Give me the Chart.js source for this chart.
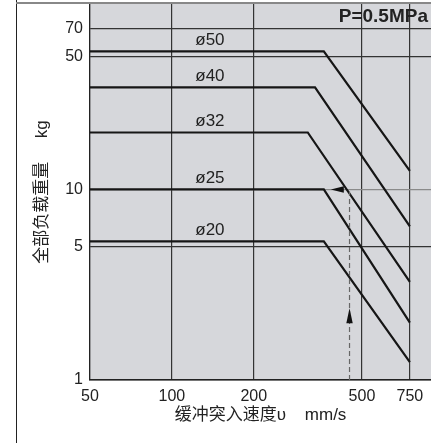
<!DOCTYPE html>
<html>
<head>
<meta charset="utf-8">
<script src="https://cdn.jsdelivr.net/npm/chart.js@4.4.1/dist/chart.umd.min.js"></script>
<style>
  body { margin: 0; background: #fff; }
  canvas { display: block; }
</style>
</head>
<body>
<canvas id="chart" width="431" height="443"></canvas>
<script>
// 缓冲突入速度 (mm/s) - 全部负载重量 (kg), P=0.5MPa
const boreLabels = ['ø50', 'ø40', 'ø32', 'ø25', 'ø20'];
const startSpeed = [50, 50, 50, 50, 50];
const flatLoad = [53, 34.3, 19.9, 10, 5.34];   // kg 水平段
const kneeSpeed = [362, 336, 316, 362, 362];    // mm/s 拐点
const endSpeed = [750, 750, 750, 750, 750];
const endLoad = [12.5, 6.4, 3.27, 2.0, 1.24];   // kg @750mm/s
const xTicks = [50, 100, 200, 500, 750];
const yTicks = [1, 5, 10, 50, 70];
const pressureLabel = 'P=0.5MPa';
const labelSpeed = 138;

// 选型示例 450mm/s -> 10kg
const exampleSpeed = 450;
const exampleLoad = 10;
const arrowUpLoad = 2.38;
const arrowLeftSpeed = 384;

const latin = '"Liberation Sans", Arial, "Noto Sans CJK SC", sans-serif';
const ink = '#222';

const decor = {
  id: 'decor',
  beforeDatasetsDraw(chart) {
    const { ctx, chartArea: a } = chart;
    ctx.save();
    // 底色画在网格之下
    ctx.globalCompositeOperation = 'destination-over';
    ctx.fillStyle = 'rgb(214,215,219)';
    ctx.fillRect(a.left, a.top, a.right - a.left, a.bottom - a.top);
    ctx.restore();
  },
  afterDraw(chart) {
    const { ctx } = chart;
    ctx.save();
    ctx.strokeStyle = '#222';
    ctx.lineWidth = 1;
    ctx.beginPath(); ctx.moveTo(16.5, 0); ctx.lineTo(16.5, chart.height); ctx.stroke();
    ctx.strokeStyle = '#888';
    ctx.lineWidth = 2;
    ctx.beginPath(); ctx.moveTo(16, 3); ctx.lineTo(chart.width, 3); ctx.stroke();
    ctx.restore();
  },
  afterDatasetsDraw(chart) {
    const { ctx, chartArea: a } = chart;
    const x = chart.scales.x, y = chart.scales.y;
    ctx.save();
    ctx.fillStyle = ink;
    ctx.font = '17px ' + latin;
    ctx.textAlign = 'center';
    ctx.textBaseline = 'middle';
    boreLabels.forEach((t, i) => {
      ctx.fillText(t, x.getPixelForValue(labelSpeed), y.getPixelForValue(flatLoad[i]) - 11);
    });

    ctx.font = 'bold 19px ' + latin;
    ctx.textAlign = 'right';
    ctx.fillText(pressureLabel, a.right - 3, a.top + 13);

    // 虚线 + 箭头
    const ex = x.getPixelForValue(exampleSpeed);
    const ey = y.getPixelForValue(exampleLoad);
    ctx.strokeStyle = '#666';
    ctx.lineWidth = 1.2;
    ctx.setLineDash([5, 3]);
    ctx.beginPath(); ctx.moveTo(ex, a.bottom); ctx.lineTo(ex, ey + 2); ctx.stroke();
    ctx.setLineDash([]);

    ctx.fillStyle = '#111';
    const uy = y.getPixelForValue(arrowUpLoad);
    ctx.beginPath();
    ctx.moveTo(ex, uy); ctx.lineTo(ex - 3.2, uy + 15); ctx.lineTo(ex + 3.2, uy + 15);
    ctx.closePath(); ctx.fill();

    const lx = x.getPixelForValue(arrowLeftSpeed);
    ctx.beginPath();
    ctx.moveTo(lx, ey); ctx.lineTo(lx + 13, ey - 3.2); ctx.lineTo(lx + 13, ey + 3.2);
    ctx.closePath(); ctx.fill();
    ctx.restore();
  }
};

const datasets = boreLabels.map((lab, i) => ({
  label: lab,
  data: [
    { x: startSpeed[i], y: flatLoad[i] },
    { x: kneeSpeed[i], y: flatLoad[i] },
    { x: endSpeed[i], y: endLoad[i] }
  ],
  borderColor: '#161616',
  borderWidth: 2.2,
  pointRadius: 0,
  tension: 0,
  fill: false
}));

new Chart(document.getElementById('chart'), {
  type: 'line',
  data: { datasets },
  plugins: [decor],
  options: {
    responsive: false,
    animation: false,
    devicePixelRatio: 1,
    layout: { padding: { left: 22, top: 4, right: 0, bottom: 0 } },
    plugins: { legend: { display: false }, tooltip: { enabled: false } },
    scales: {
      x: {
        type: 'logarithmic',
        min: 50,
        max: 897,
        afterBuildTicks: s => { s.ticks = xTicks.map(v => ({ value: v })); },
        afterFit: s => { s.height = 63; s.paddingLeft = 0; s.paddingRight = 0; },
        ticks: {
          autoSkip: false,
          maxRotation: 0,
          padding: 7,
          color: ink,
          font: { size: 16, family: latin },
          callback: v => String(v)
        },
        grid: { color: '#333', lineWidth: 1.2, drawTicks: false },
        border: { display: true, color: '#222', width: 1.5 },
        title: {
          display: true,
          text: '缓冲突入速度υ    mm/s',
          color: ink,
          font: { size: 17, family: latin },
          padding: { top: 0, bottom: 17 }
        }
      },
      y: {
        type: 'logarithmic',
        min: 1,
        max: 94,
        afterBuildTicks: s => { s.ticks = yTicks.map(v => ({ value: v })); },
        afterFit: s => { s.width = 68; s.paddingTop = 0; s.paddingBottom = 0; },
        ticks: {
          padding: 7,
          color: ink,
          font: { size: 16, family: latin },
          callback: v => String(v)
        },
        grid: {
          color: c => (c.tick && c.tick.value === 10 ? '#8a8a8a' : '#333'),
          lineWidth: 1.2,
          drawTicks: false
        },
        border: { display: true, color: '#222', width: 1.2 },
        title: {
          display: true,
          text: '全部负载重量     kg',
          color: ink,
          font: { size: 17, family: latin },
          padding: { top: 10, bottom: 0 }
        }
      }
    }
  }
});
</script>
</body>
</html>
